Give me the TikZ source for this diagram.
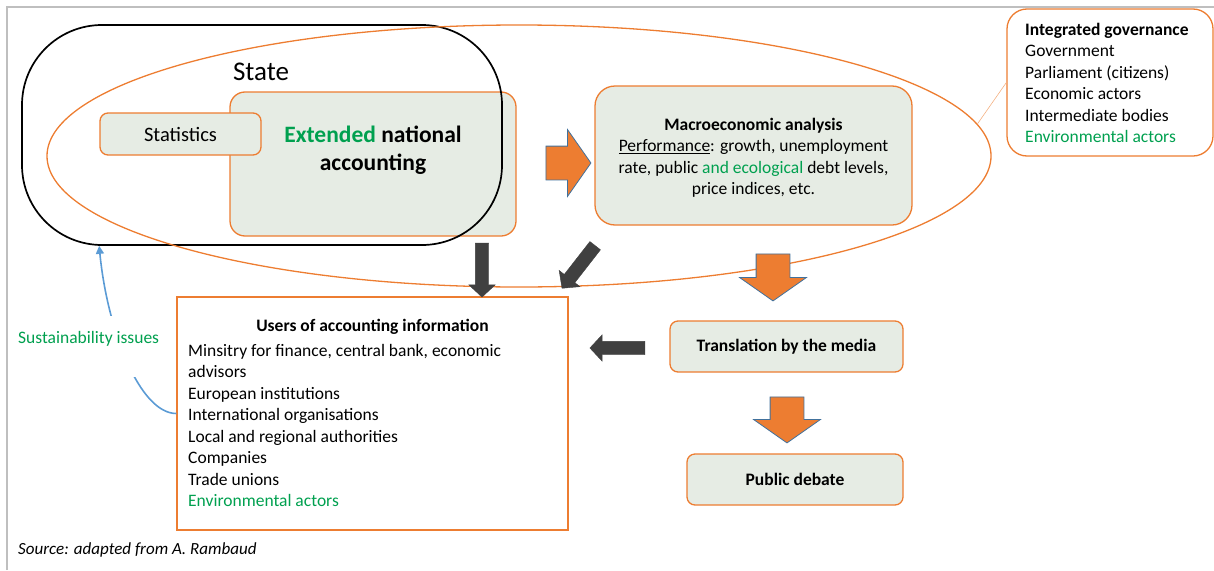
\documentclass[tikz,border=0pt]{standalone}
\usepackage{fontspec}
\setmainfont{Carlito}
\usetikzlibrary{arrows.meta, positioning, shapes.arrows, shapes.geometric}

\definecolor{boxorange}{HTML}{ED7D31}
\definecolor{boxfill}{HTML}{E6ECE4}
\definecolor{envgreen}{HTML}{00A04F}
\definecolor{arrowblue}{HTML}{41719C}
\definecolor{arrowgray}{HTML}{404040}
\definecolor{linkblue}{HTML}{5B9BD5}
\definecolor{framegray}{HTML}{BFBFBF}

\newcommand{\txt}{\fontsize{17.5}{21.5}\selectfont}

\begin{document}
\begin{tikzpicture}[x=1pt, y=-1pt, every node/.style={inner sep=0pt, font=\txt},
                    greenbox/.style={draw=boxorange, fill=boxfill, line width=1.3pt, rounded corners=#1},
                    greenbox/.default=8pt,
                    linebox/.style={draw=boxorange, line width=1.3pt},
                    orangeblock/.style={single arrow, fill=boxorange, draw=arrowblue, line width=0.8pt, inner xsep=0pt, inner ysep=16.5pt,
                                        single arrow head extend=16.5pt, single arrow tip angle=110, minimum height=#1},
                    darkblock/.style={single arrow, fill=arrowgray, draw=arrowgray, line width=0.4pt, inner xsep=0pt, inner ysep=6.5pt,
                                      single arrow head extend=6.5pt, single arrow tip angle=94, minimum height=#1}]
                    \useasboundingbox (0,0) rectangle (1214,570);
                    \draw[framegray, line width=1.5pt] (7,570) -- (7,7) -- (1214,7);

                    \node[greenbox=15pt, minimum width=286, minimum height=144](extended) at (373,164){};
                    \node[align=center, font=\fontsize{23.5}{28.5}\selectfont\bfseries](extendedtext) at ([yshift=14pt]extended.center){\textcolor{envgreen}{Extended} national\\accounting};
                    \node[greenbox, minimum width=161, minimum height=42, font=\fontsize{20.5}{24}\selectfont](statistics) at (180.5,134){Statistics};
                    \node[draw, line width=1.7pt, rounded corners=80pt, minimum width=480, minimum height=220](state) at (262,135){};
                    \node[font=\fontsize{27}{32}\selectfont](statelabel) at (261,72){State};
                    \node[draw=boxorange, line width=1.3pt, ellipse, minimum width=944, minimum height=262](outer) at (519,156){};

                    \node[greenbox=20pt, minimum width=317, minimum height=139](macro) at (753.5,155.5){};
                    \node[align=center](macrotext) at ([yshift=-2.5pt]macro.center){\textbf{Macroeconomic analysis}\\\underline{Performance}: growth, unemployment\\rate, public \textcolor{envgreen}{and ecological} debt levels,\\price indices, etc.};

                    \node[linebox, rounded corners=20pt, minimum width=206, minimum height=147](governance) at (1110,82.5){};
                    \node[align=left, anchor=north west](governancetext) at (1025,23){\textbf{Integrated governance}\\Government\\Parliament (citizens)\\Economic actors\\Intermediate bodies\\\textcolor{envgreen}{Environmental actors}};
                    \draw[boxorange!60, line width=0.6pt] (governance.west) -- (outer.4);

                    \node[linebox, minimum width=391, minimum height=233](users) at (372.5,413.5){};
                    \node[font=\txt\bfseries, below=23pt of users.north](userstitle){Users of accounting information};
                    \node[align=left, anchor=north west](userslist) at (188,344){Minsitry for finance, central bank, economic\\advisors\\European institutions\\International organisations\\Local and regional authorities\\Companies\\Trade unions\\\textcolor{envgreen}{Environmental actors}};

                    \node[greenbox, minimum width=233, minimum height=51, font=\txt\bfseries](media) at (786.5,346.5){Translation by the media};
                    \node[greenbox, minimum width=216, minimum height=51, font=\txt\bfseries](debate) at (795,479.5){Public debate};

                    \node[orangeblock=45](toanalysis) at (562.5,163){};
                    \node[orangeblock=47, rotate=-90](tomedia) at (773,271.5){};
                    \node[orangeblock=46, rotate=-90](todebate) at (787,414){};
                    \node[darkblock=54, rotate=-90](fromaccounts) at (482,267){};
                    \node[darkblock=54, rotate=-127.9](fromanalysis) at (580.5,264.5){};
                    \node[darkblock=55, rotate=180](frommedia) at (620.5,348){};

                    \draw[linkblue, line width=1.6pt, -{Triangle[length=8pt, width=8pt]}] (users.west) .. controls +(-37,0) and +(8,83) .. ([xshift=78pt]state.south west);
                    \node[anchor=base west, text height=27pt, text depth=34pt, fill=white, text=envgreen](issues) at (18,343){Sustainability issues};
                    \node[anchor=west, font=\fontsize{17}{20}\selectfont\itshape](source) at (18,550){Source: adapted from A. Rambaud};
                \end{tikzpicture}
\end{document}
